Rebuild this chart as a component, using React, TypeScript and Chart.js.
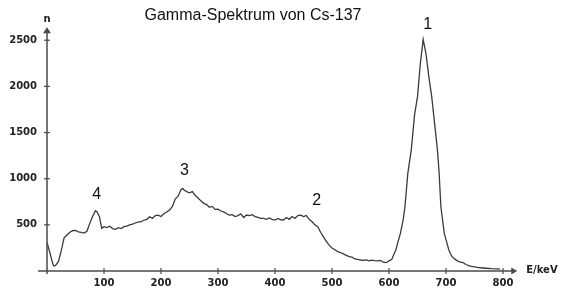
import React, { useEffect, useRef } from "react";
import { Chart, registerables } from "chart.js";

Chart.register(...registerables);

const energies = [
  0, 5, 10, 12, 15, 20, 25, 30, 35, 40, 45, 50, 55, 60, 65, 70, 75, 80, 85, 88, 92, 96,
  100, 105, 110, 115, 120, 125, 130, 135, 140, 145, 150, 155, 160, 165, 170, 175, 180, 185,
  190, 195, 200, 205, 210, 215, 220, 225, 230, 235, 238, 240, 245, 250, 255, 260, 265, 270,
  275, 280, 285, 290, 295, 300, 305, 310, 315, 320, 325, 330, 335, 340, 345, 350, 355, 360,
  365, 370, 375, 380, 385, 390, 395, 400, 405, 410, 415, 420, 425, 430, 435, 440, 445, 450,
  455, 460, 465, 470, 475, 480, 485, 490, 495, 500, 505, 510, 515, 520, 525, 530, 535, 540,
  545, 550, 555, 560, 565, 570, 575, 580, 585, 590, 595, 600, 605, 610, 612, 615, 620, 625,
  628, 633, 639, 645, 650, 655, 660, 665, 670, 675, 680, 685, 688, 691, 697, 700, 705, 710,
  716, 720, 725, 730, 735, 742, 750, 760, 770, 780, 790, 795,
];

const counts = [
  310, 200, 80, 54, 60, 100, 220, 360, 390, 420, 436, 440, 425, 418, 410, 430, 516, 590, 653, 640, 588, 462,
  480, 470, 485, 460, 452, 470, 460, 480, 487, 500, 508, 520, 530, 534, 550, 560, 588, 570,
  600, 606, 590, 620, 640, 660, 700, 780, 810, 880, 895, 880, 860, 847, 860, 820, 790, 760,
  733, 720, 690, 700, 668, 670, 650, 640, 620, 606, 610, 590, 600, 620, 580, 606, 600, 610,
  590, 580, 570, 570, 560, 575, 560, 552, 570, 555, 552, 580, 560, 590, 570, 600, 606, 590,
  600, 560, 534, 500, 480, 420, 370, 320, 280, 250, 230, 210, 200, 185, 170, 155, 150, 130,
  125, 119, 115, 120, 110, 118, 112, 110, 115, 95, 90, 110, 126, 200, 227, 300, 408, 560,
  696, 1057, 1310, 1700, 1886, 2250, 2508, 2350, 2100, 1886, 1600, 1310, 1057, 696, 408, 340, 227, 160,
  126, 110, 95, 90, 70, 54, 45, 35, 30, 25, 22, 20,
];

const xTickValues = [100, 200, 300, 400, 500, 600, 700, 800];
const yTickValues = [500, 1000, 1500, 2000, 2500];
const xMax = 800;
const yMax = 2600;

const title = "Gamma-Spektrum von Cs-137";
const xAxisLabel = "E/keV";
const yAxisLabel = "n";

const peakLabels = ["1", "2", "3", "4"];
const peakLabelE = [668, 473, 241, 87];
const peakLabelN = [2673, 761, 1093, 833];

const AXIS_COLOR = "#4a4a4a";
const LINE_COLOR = "#3a3a3a";
const TICK_FONT = { family: "'DejaVu Sans', sans-serif", size: 10, weight: "bold" as const };

const arrowAxesPlugin = {
  id: "arrowAxes",
  afterDraw(chart: any) {
    const { ctx, scales } = chart;
    const x = scales.x;
    const y = scales.y;
    const x0 = x.getPixelForValue(0);
    const y0 = y.getPixelForValue(0);
    const xEnd = x.getPixelForValue(825);
    const yEnd = y.getPixelForValue(2640);
    ctx.save();
    ctx.strokeStyle = AXIS_COLOR;
    ctx.fillStyle = AXIS_COLOR;
    ctx.lineWidth = 1.5;
    // x axis
    ctx.beginPath();
    ctx.moveTo(x0 - 9, y0);
    ctx.lineTo(xEnd - 5, y0);
    ctx.stroke();
    ctx.beginPath();
    ctx.moveTo(xEnd, y0);
    ctx.lineTo(xEnd - 6, y0 - 3.5);
    ctx.lineTo(xEnd - 6, y0 + 3.5);
    ctx.closePath();
    ctx.fill();
    // y axis
    ctx.beginPath();
    ctx.moveTo(x0, y0 + 3);
    ctx.lineTo(x0, yEnd + 5);
    ctx.stroke();
    ctx.beginPath();
    ctx.moveTo(x0, yEnd);
    ctx.lineTo(x0 - 4, yEnd + 6);
    ctx.lineTo(x0 + 4, yEnd + 6);
    ctx.closePath();
    ctx.fill();
    // tick marks
    ctx.lineWidth = 1.2;
    x.ticks.forEach((t: any) => {
      const px = x.getPixelForValue(t.value);
      ctx.beginPath();
      ctx.moveTo(px, y0 - 3);
      ctx.lineTo(px, y0 + 3);
      ctx.stroke();
    });
    y.ticks.forEach((t: any) => {
      const py = y.getPixelForValue(t.value);
      ctx.beginPath();
      ctx.moveTo(x0 - 3, py);
      ctx.lineTo(x0 + 3, py);
      ctx.stroke();
    });
    // axis labels
    ctx.fillStyle = "#222";
    ctx.font = "bold 10px 'DejaVu Sans', sans-serif";
    ctx.textBaseline = "middle";
    ctx.textAlign = "left";
    ctx.fillText(xAxisLabel, xEnd + 9, y0 - 1);
    ctx.textAlign = "center";
    ctx.fillText(yAxisLabel, x0, yEnd - 8);
    // title
    ctx.fillStyle = "#111";
    ctx.font = "16px 'Liberation Sans', Arial, sans-serif";
    ctx.textAlign = "center";
    ctx.fillText(title, 253, 16);
    // peak labels
    peakLabels.forEach((lbl, i) => {
      ctx.fillText(lbl, x.getPixelForValue(peakLabelE[i]), y.getPixelForValue(peakLabelN[i]));
    });
    ctx.restore();
  },
};

export default function App() {
  const canvasRef = useRef<HTMLCanvasElement | null>(null);

  useEffect(() => {
    document.body.style.margin = "0";
    const canvas = canvasRef.current;
    if (!canvas) return;
    const chart = new Chart(canvas, {
      type: "line",
      data: {
        datasets: [
          {
            data: energies.map((e, i) => ({ x: e, y: counts[i] })),
            borderColor: LINE_COLOR,
            borderWidth: 1.3,
            pointRadius: 0,
            tension: 0,
            fill: false,
          },
        ],
      },
      options: {
        responsive: false,
        animation: false,
        layout: { padding: { top: 31, right: 69, left: 0, bottom: 0 } },
        plugins: {
          legend: { display: false },
          title: { display: false },
          tooltip: { enabled: false },
        },
        scales: {
          x: {
            type: "linear",
            min: 0,
            max: xMax,
            grid: { display: false, drawTicks: false },
            border: { display: false },
            ticks: {
              font: TICK_FONT,
              color: "#222",
              padding: 6,
              maxRotation: 0,
              autoSkip: false,
              callback: (v: any) => String(v),
            },
            afterBuildTicks: (s: any) => {
              s.ticks = xTickValues.map((v) => ({ value: v }));
            },
            afterFit: (s: any) => {
              s.height = 29;
            },
          },
          y: {
            type: "linear",
            min: 0,
            max: yMax,
            grid: { display: false, drawTicks: false },
            border: { display: false },
            ticks: {
              font: TICK_FONT,
              color: "#222",
              padding: 10,
              autoSkip: false,
              callback: (v: any) => String(v),
            },
            afterBuildTicks: (s: any) => {
              s.ticks = yTickValues.map((v) => ({ value: v }));
            },
            afterFit: (s: any) => {
              s.width = 47;
            },
          },
        },
      },
      plugins: [arrowAxesPlugin],
    });
    return () => chart.destroy();
  }, []);

  return (
    <div style={{ position: "absolute", left: 0, top: 0, width: 572, height: 300, background: "#fff" }}>
      <canvas ref={canvasRef} width={572} height={300} />
    </div>
  );
}
